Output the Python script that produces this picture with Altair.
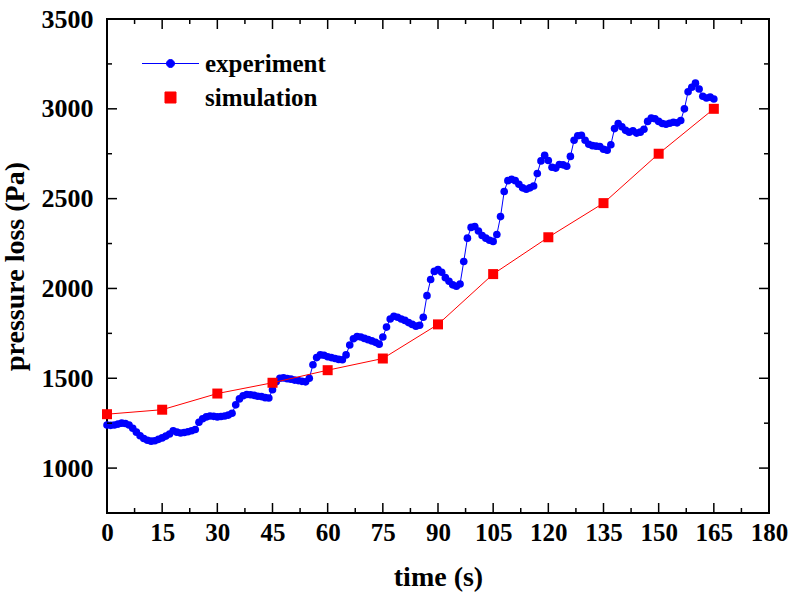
import altair as alt
import pandas as pd

# ---------------- data ----------------
exp_time = list(range(0, 166))
exp_pressure = [
    1240, 1238, 1240, 1245, 1250, 1248, 1240, 1222, 1200, 1180,
    1165, 1155, 1150, 1152, 1160, 1168, 1178, 1190, 1208, 1200,
    1195, 1198, 1202, 1208, 1215, 1255, 1275, 1285, 1290, 1288,
    1285, 1287, 1290, 1295, 1305, 1352, 1385, 1403, 1410, 1408,
    1405, 1400, 1398, 1392, 1390, 1436, 1480, 1500, 1502, 1498,
    1495, 1490, 1487, 1483, 1480, 1500, 1575, 1615, 1630, 1628,
    1620, 1615, 1610, 1605, 1603, 1630, 1685, 1720, 1732, 1730,
    1722, 1715, 1708, 1700, 1690, 1730, 1785, 1830, 1845, 1840,
    1830, 1822, 1810, 1800, 1790, 1795, 1840, 1960, 2050, 2095,
    2105, 2090, 2060, 2040, 2020, 2012, 2025, 2150, 2280, 2340,
    2345, 2320, 2295, 2280, 2268, 2262, 2300, 2400, 2540, 2600,
    2608, 2600, 2580, 2560, 2552, 2560, 2570, 2640, 2710, 2741,
    2712, 2675, 2670, 2690, 2688, 2680, 2735, 2825, 2850, 2853,
    2825, 2803, 2795, 2792, 2790, 2775, 2770, 2800, 2890, 2918,
    2900, 2880, 2870, 2878, 2865, 2870, 2886, 2930, 2948, 2945,
    2930, 2918, 2914, 2920, 2925, 2922, 2935, 3000, 3095, 3120,
    3143, 3110, 3070, 3060, 3065, 3055,
]
sim_time = [0, 15, 30, 45, 60, 75, 90, 105, 120, 135, 150, 165]
sim_pressure = [1300, 1325, 1415, 1475, 1545, 1610, 1800, 2080, 2285, 2475, 2750, 3000]

series_names = ["experiment", "simulation"]

x_major = [0, 15, 30, 45, 60, 75, 90, 105, 120, 135, 150, 165, 180]
x_minor = [7.5, 22.5, 37.5, 52.5, 67.5, 82.5, 97.5, 112.5, 127.5, 142.5, 157.5, 172.5]
y_major = [1000, 1500, 2000, 2500, 3000, 3500]
y_minor = [1250, 1750, 2250, 2750, 3250]

# ---------------- style ----------------
W, H = 662, 494
FONT = "Liberation Serif"
BLUE = "#0000FF"
RED = "#FF0000"

exp_df = pd.DataFrame({"t": exp_time, "p": exp_pressure})
sim_df = pd.DataFrame({"t": sim_time, "p": sim_pressure})
leg_df = pd.DataFrame({"series": series_names})

xs = alt.Scale(domain=[0, 180], nice=False, zero=False)
ys = alt.Scale(domain=[750, 3500], nice=False, zero=False)

x_axis = alt.Axis(
    values=x_major, format="d", title="time (s)", labelFont=FONT, labelFontSize=25,
    labelFontWeight="bold", labelColor="black", labelPadding=7,
    titleFont=FONT, titleFontSize=28, titleFontWeight="bold", titleColor="black",
    titlePadding=18, ticks=False, domain=False, grid=False, labelFlush=False,
)
y_axis = alt.Axis(
    values=y_major, format="d", title="pressure loss (Pa)", labelFont=FONT, labelFontSize=26,
    labelFontWeight="bold", labelColor="black", labelPadding=14,
    titleFont=FONT, titleFontSize=28, titleFontWeight="bold", titleColor="black",
    titlePadding=12, ticks=False, domain=False, grid=False, labelFlush=False,
)

exp_line = alt.Chart(exp_df).mark_line(color=BLUE, strokeWidth=1).encode(
    x=alt.X("t:Q", scale=xs, axis=x_axis),
    y=alt.Y("p:Q", scale=ys, axis=y_axis),
)
exp_pts = alt.Chart(exp_df).mark_point(
    filled=True, shape="circle", size=58, color=BLUE, opacity=1
).encode(x=alt.X("t:Q", scale=xs), y=alt.Y("p:Q", scale=ys))

sim_line = alt.Chart(sim_df).mark_line(color=RED, strokeWidth=1).encode(
    x=alt.X("t:Q", scale=xs), y=alt.Y("p:Q", scale=ys)
)
sim_pts = alt.Chart(sim_df).mark_point(
    filled=True, shape="square", size=100, color=RED, opacity=1
).encode(x=alt.X("t:Q", scale=xs), y=alt.Y("p:Q", scale=ys))


def xticks(vals, length, top):
    df = pd.DataFrame({"t": vals})
    y0, y1 = (0, length) if top else (H, H - length)
    return alt.Chart(df).mark_rule(color="black", strokeWidth=1.5).encode(
        x=alt.X("t:Q", scale=xs),
        y=alt.value(y0), y2=alt.value(y1),
    )


def yticks(vals, length, right):
    df = pd.DataFrame({"p": vals})
    x0, x1 = (W, W - length) if right else (0, length)
    return alt.Chart(df).mark_rule(color="black", strokeWidth=1.5).encode(
        y=alt.Y("p:Q", scale=ys),
        x=alt.value(x0), x2=alt.value(x1),
    )


tick_layers = [
    xticks(x_major, 10, False), xticks(x_minor, 5, False),
    xticks(x_major, 10, True), xticks(x_minor, 5, True),
    yticks(y_major, 10, False), yticks(y_minor, 5, False),
    yticks(y_major, 10, True), yticks(y_minor, 5, True),
]

exp_symbol = "M-3,0H3M0.42,0A0.42,0.42,0,1,1,-0.42,0A0.42,0.42,0,1,1,0.42,0Z"
sim_symbol = "M-0.58,-0.58H0.58V0.58H-0.58Z"

leg = alt.Legend(
    orient="none", legendX=51, legendY=32, title=None,
    labelFont=FONT, labelFontSize=25, labelFontWeight="bold", labelColor="black",
    symbolSize=361, symbolStrokeWidth=1, symbolOpacity=1,
    labelOffset=22, rowPadding=8, padding=0,
)
legend_layer = alt.Chart(leg_df).mark_point(filled=True, opacity=1).encode(
    shape=alt.Shape("series:N", scale=alt.Scale(domain=series_names, range=[exp_symbol, sim_symbol]), legend=leg),
    fill=alt.Fill("series:N", scale=alt.Scale(domain=series_names, range=[BLUE, RED]), legend=leg),
    stroke=alt.Stroke("series:N", scale=alt.Scale(domain=series_names, range=[BLUE, RED]), legend=leg),
).transform_filter("datum.series == 'none'")

chart = alt.layer(
    exp_line, exp_pts, sim_line, sim_pts, *tick_layers, legend_layer
).properties(
    width=W, height=H,
    autosize=alt.AutoSizeParams(type="none"),
    padding={"left": 107, "top": 19, "right": 32, "bottom": 84},
    background="white",
).configure_view(stroke="black", strokeWidth=2)

chart.save("out.html", embed_options={"renderer": "svg", "actions": False})
